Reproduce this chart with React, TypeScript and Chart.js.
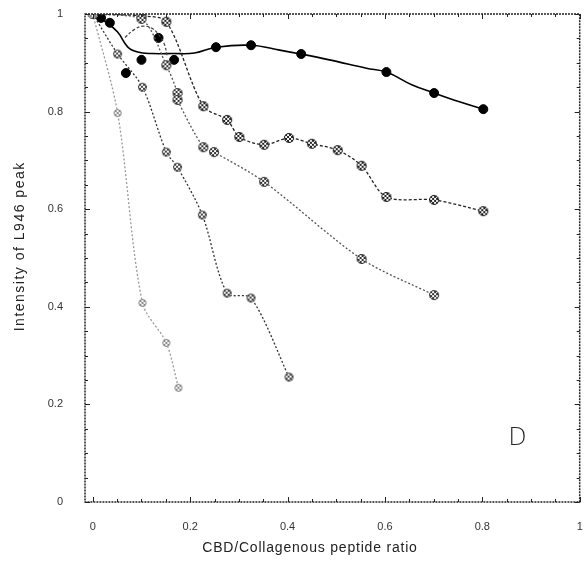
import React, { useEffect, useRef } from 'react';
import { Chart, registerables } from 'chart.js';
Chart.register(...registerables);

const xTickValues = [0, 0.2, 0.4, 0.6, 0.8, 1];
const xTickLabels = ['0', '0.2', '0.4', '0.6', '0.8', '1'];
const yTickValues = [0, 0.2, 0.4, 0.6, 0.8, 1];
const yTickLabels = ['0', '0.2', '0.4', '0.6', '0.8', '1'];

const xTitle = 'CBD/Collagenous peptide ratio';
const yTitle = 'Intensity of L946 peak';
const panelLabel = 'D';

// Series A (filled black circles) – measured points
const aMarkX = [0, 0.017, 0.035, 0.068, 0.1, 0.135, 0.167, 0.253, 0.325, 0.428, 0.603, 0.701, 0.802];
const aMarkY = [1, 0.992, 0.982, 0.879, 0.906, 0.951, 0.906, 0.932, 0.936, 0.918, 0.881, 0.838, 0.805];
// Series A smoothed curve
const aCurveX = [0, 0.025, 0.051, 0.072, 0.092, 0.121, 0.164, 0.209, 0.254, 0.325, 0.384, 0.427, 0.486, 0.562, 0.603, 0.655, 0.701, 0.753, 0.802];
const aCurveY = [1, 0.985, 0.963, 0.932, 0.922, 0.919, 0.919, 0.92, 0.932, 0.936, 0.926, 0.918, 0.906, 0.889, 0.881, 0.855, 0.838, 0.82, 0.805];

// Series B
const bX = [0, 0.1, 0.151, 0.227, 0.276, 0.301, 0.352, 0.403, 0.45, 0.503, 0.552, 0.603, 0.701, 0.802];
const bY = [1, 0.996, 0.984, 0.811, 0.783, 0.748, 0.732, 0.746, 0.734, 0.721, 0.689, 0.625, 0.619, 0.596];
// Series C
const cX = [0, 0.1, 0.151, 0.174, 0.174, 0.227, 0.249, 0.352, 0.552, 0.701];
const cY = [1, 0.99, 0.895, 0.838, 0.824, 0.727, 0.717, 0.656, 0.498, 0.424];
// Series D
const dX = [0, 0.051, 0.102, 0.151, 0.174, 0.225, 0.276, 0.325, 0.403];
const dY = [1, 0.918, 0.85, 0.717, 0.686, 0.588, 0.428, 0.418, 0.256];
// Series E
const eX = [0, 0.051, 0.102, 0.151, 0.176];
const eY = [1, 0.797, 0.408, 0.326, 0.234];
// dashed loop overshoot near the top
const loopX = [0.066, 0.085, 0.103, 0.121, 0.135, 0.147, 0.153];
const loopY = [0.952, 0.968, 0.975, 0.971, 0.958, 0.938, 0.912];

const pts = (xs: number[], ys: number[]) => xs.map((x, i) => ({ x, y: ys[i] }));

function hatchMarker(r: number, color: string) {
  const s = Math.ceil(r * 2 + 2);
  const c = document.createElement('canvas');
  c.width = s;
  c.height = s;
  const ctx = c.getContext('2d')!;
  ctx.save();
  ctx.beginPath();
  ctx.arc(s / 2, s / 2, r, 0, Math.PI * 2);
  ctx.clip();
  ctx.fillStyle = '#ffffff';
  ctx.fillRect(0, 0, s, s);
  ctx.fillStyle = color;
  for (let i = 0; i < s; i += 2) {
    for (let j = 0; j < s; j += 2) {
      if (((i + j) / 2) % 2 === 0) ctx.fillRect(i, j, 2, 2);
    }
  }
  ctx.restore();
  ctx.beginPath();
  ctx.arc(s / 2, s / 2, r - 0.5, 0, Math.PI * 2);
  ctx.strokeStyle = color;
  ctx.lineWidth = 1;
  ctx.stroke();
  return c;
}

const framePlugin = {
  id: 'frame',
  afterDatasetsDraw(chart: any) {
    const { ctx, chartArea: a, scales } = chart;
    const xs = scales.x;
    const ys = scales.y;
    ctx.save();
    ctx.strokeStyle = '#222';
    ctx.lineWidth = 1.5;
    ctx.setLineDash([2, 1]);
    ctx.strokeRect(a.left, a.top, a.right - a.left, a.bottom - a.top);
    ctx.setLineDash([]);
    ctx.lineWidth = 1;
    for (let k = 0; k <= 20; k++) {
      const v = k * 0.05;
      const major = k % 4 === 0;
      const len = major ? 5 : 3;
      const px = Math.round(xs.getPixelForValue(v)) + 0.5;
      const py = Math.round(ys.getPixelForValue(v)) + 0.5;
      ctx.beginPath();
      ctx.moveTo(px, a.bottom);
      ctx.lineTo(px, a.bottom - len);
      ctx.moveTo(px, a.top);
      ctx.lineTo(px, a.top + len);
      ctx.moveTo(a.left, py);
      ctx.lineTo(a.left + len, py);
      ctx.moveTo(a.right, py);
      ctx.lineTo(a.right - len, py);
      ctx.stroke();
    }
    // panel letter
    ctx.fillStyle = '#222';
    ctx.font = '300 24px "DejaVu Sans", Arial, sans-serif';
    ctx.textAlign = 'center';
    ctx.textBaseline = 'middle';
    ctx.fillText(panelLabel, xs.getPixelForValue(0.872), ys.getPixelForValue(0.13));
    // axis titles
    const c: any = ctx;
    ctx.font = '14px Arial, "Liberation Sans", sans-serif';
    ctx.fillStyle = '#222';
    c.letterSpacing = '0.8px';
    ctx.fillText(xTitle, xs.getPixelForValue(0.446), 548);
    c.letterSpacing = '1.5px';
    ctx.translate(20, ys.getPixelForValue(0.524));
    ctx.rotate(-Math.PI / 2);
    ctx.fillText(yTitle, 0, 0);
    c.letterSpacing = '0px';
    ctx.restore();
  },
};

export default function App() {
  const ref = useRef<HTMLCanvasElement>(null);
  useEffect(() => {
    if (!ref.current) return;
    const mB = hatchMarker(5, '#222');
    const mC = hatchMarker(5, '#333');
    const mD = hatchMarker(4.5, '#444');
    const mE = hatchMarker(4, '#888');
    const chart = new Chart(ref.current, {
      type: 'scatter',
      data: {
        datasets: [
          {
            data: pts(eX, eY), showLine: true, borderColor: '#999', borderWidth: 1.3,
            borderDash: [2, 2], tension: 0.3, pointStyle: mE as any, pointRadius: 4,
          },
          {
            data: pts(dX, dY), showLine: true, borderColor: '#333', borderWidth: 1.3,
            borderDash: [2, 2], tension: 0.3, pointStyle: mD as any, pointRadius: 4.5,
          },
          {
            data: pts(cX, cY), showLine: true, borderColor: '#555', borderWidth: 1.3,
            borderDash: [2, 2], tension: 0.3, pointStyle: mC as any, pointRadius: 5,
          },
          {
            data: pts(bX, bY), showLine: true, borderColor: '#222', borderWidth: 1.3,
            borderDash: [3, 2], tension: 0.3, pointStyle: mB as any, pointRadius: 5,
          },
          {
            data: pts(loopX, loopY), showLine: true, borderColor: '#444', borderWidth: 1.2,
            borderDash: [3, 2], tension: 0.4, pointRadius: 0,
          },
          {
            data: pts(aCurveX, aCurveY), showLine: true, borderColor: '#000', borderWidth: 1.6,
            tension: 0.4, pointRadius: 0,
          },
          {
            data: pts(aMarkX, aMarkY), showLine: false, pointStyle: 'circle', pointRadius: 4.5,
            backgroundColor: '#000', borderColor: '#000', borderWidth: 1,
          },
        ],
      },
      options: {
        responsive: false,
        animation: false,
        events: [],
        layout: { padding: { top: 14, right: 4, left: 0, bottom: 0 } },
        plugins: { legend: { display: false }, tooltip: { enabled: false } },
        scales: {
          x: {
            type: 'linear', min: -0.016, max: 1,
            afterBuildTicks: (s: any) => { s.ticks = xTickValues.map((v) => ({ value: v })); },
            afterFit: (s: any) => { s.height = 63; },
            grid: { display: false, drawTicks: true, tickLength: 18 },
            border: { display: false },
            ticks: {
              padding: 0, color: '#333', font: { family: 'Arial, "Liberation Sans", sans-serif', size: 11 },
              callback: (v: any) => xTickLabels[xTickValues.indexOf(Number(v))] ?? '',
              maxRotation: 0, autoSkip: false,
            },
            title: { display: false, text: xTitle },
          },
          y: {
            type: 'linear', min: 0, max: 1,
            afterBuildTicks: (s: any) => { s.ticks = yTickValues.map((v) => ({ value: v })); },
            afterFit: (s: any) => { s.width = 85; },
            grid: { display: false, drawTicks: true, tickLength: 22 },
            border: { display: false },
            ticks: {
              padding: 0, color: '#333', font: { family: 'Arial, "Liberation Sans", sans-serif', size: 11 },
              callback: (v: any) => yTickLabels[yTickValues.indexOf(Number(v))] ?? '',
              autoSkip: false,
            },
            title: { display: false, text: yTitle },
          },
        },
      },
      plugins: [framePlugin],
    });
    return () => chart.destroy();
  }, []);
  return (
    <div style={{ position: 'fixed', left: 0, top: 0, width: 586, height: 565, background: '#fff' }}>
      <canvas ref={ref} width={586} height={565} />
    </div>
  );
}
